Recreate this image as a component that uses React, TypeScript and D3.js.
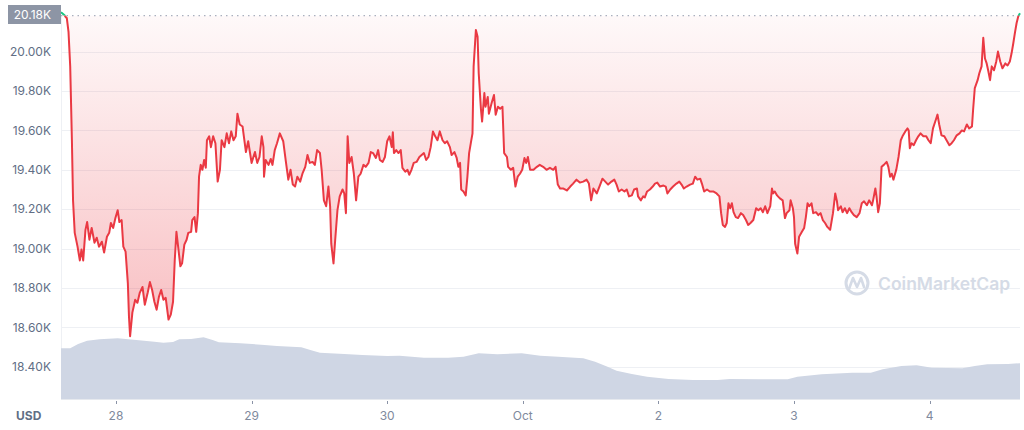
import React from 'react';
import * as d3 from 'd3';

// hours counted from 27 Sep 00:00
const hours = [
  14.27, 14.9, 15.1, 15.3, 15.6, 15.9, 16.2, 16.4, 16.7, 17.2, 17.6, 17.9, 18.2, 18.6, 18.9, 19.3, 19.7, 20.2, 20.6, 21.0,
  21.5, 21.9, 22.4, 22.8, 23.1, 23.5, 23.9, 24.3, 24.6, 25.0, 25.3, 25.7, 26.1, 26.3, 26.5, 26.9, 27.4, 27.8, 28.2, 28.7,
  29.1, 29.6, 30.0, 30.4, 30.8, 31.2, 31.6, 32.0, 32.4, 32.8, 33.3, 33.7, 34.1, 34.4, 34.7, 35.0, 35.4, 35.7, 36.1, 36.5,
  36.8, 37.3, 37.5, 37.9, 38.2, 38.5, 38.7, 39.0, 39.3, 39.6, 39.9, 40.1, 40.5, 40.8, 41.2, 41.6, 42.0, 42.4, 42.7, 43.2,
  43.6, 44.0, 44.4, 44.8, 45.2, 45.5, 45.9, 46.4, 47.0, 47.4, 48.0, 48.6, 49.0, 49.4, 49.8, 50.1, 50.2, 50.5, 51.0, 51.4,
  51.7, 52.1, 52.5, 53.0, 53.6, 54.1, 54.5, 54.9, 55.3, 55.7, 56.1, 56.6, 57.0, 57.5, 57.9, 58.3, 58.8, 59.2, 59.6, 60.1,
  60.4, 60.8, 61.2, 61.6, 61.9, 62.1, 62.5, 62.8, 63.2, 63.6, 64.1, 64.4, 64.7, 65.0, 65.3, 65.7, 66.1, 66.5, 66.9, 67.3,
  67.8, 68.2, 68.7, 69.1, 69.5, 70.0, 70.4, 70.7, 71.2, 71.6, 72.0, 72.4, 72.8, 73.0, 73.2, 73.6, 74.0, 74.4, 74.7, 75.2,
  75.6, 75.9, 76.3, 76.7, 77.2, 77.7, 78.1, 78.5, 78.9, 79.3, 79.7, 80.1, 80.5, 80.9, 81.3, 81.8, 82.2, 82.6, 83.1, 83.4,
  83.9, 84.3, 84.6, 84.9, 85.1, 85.5, 85.9, 86.2, 86.5, 86.8, 87.1, 87.3, 87.7, 88.0, 88.2, 88.6, 88.8, 89.2, 89.4, 89.8,
  90.0, 90.5, 90.9, 91.2, 91.6, 92.0, 92.4, 92.7, 93.2, 93.4, 93.9, 94.3, 94.7, 95.1, 95.5, 95.9, 96.3, 96.6, 96.9, 97.3,
  97.9, 98.5, 99.0, 99.6, 100.2, 100.8, 101.4, 101.8, 102.2, 102.6, 103.2, 103.8, 104.4, 104.9, 105.5, 106.1, 106.7, 107.3, 107.7, 108.1,
  108.5, 109.1, 109.7, 110.1, 110.6, 111.1, 111.7, 112.2, 112.6, 113.0, 113.5, 114.0, 114.4, 114.8, 115.3, 115.7, 116.2, 116.4, 116.9, 117.3,
  117.6, 118.0, 118.5, 119.0, 119.4, 119.8, 120.3, 120.9, 121.3, 121.6, 122.1, 122.6, 123.2, 123.7, 124.1, 124.5, 125.0, 125.6, 126.1, 126.5,
  126.9, 127.4, 127.7, 128.1, 128.6, 129.1, 129.7, 130.3, 130.8, 131.1, 131.4, 131.8, 132.1, 132.4, 132.7, 133.0, 133.3, 133.7, 134.1, 134.6,
  135.0, 135.5, 135.9, 136.3, 136.8, 137.3, 137.7, 138.1, 138.5, 138.9, 139.3, 139.8, 140.1, 140.3, 140.6, 141.0, 141.5, 142.0, 142.4, 142.7,
  143.2, 143.4, 143.8, 144.0, 144.2, 144.6, 144.9, 145.4, 145.8, 146.1, 146.4, 146.7, 147.1, 147.4, 147.9, 148.3, 148.7, 149.1, 149.5, 149.9,
  150.4, 150.9, 151.3, 151.6, 151.8, 152.3, 152.6, 153.0, 153.4, 153.8, 154.2, 154.6, 155.1, 155.6, 156.0, 156.4, 156.9, 157.3, 157.8, 158.0,
  158.4, 158.6, 158.9, 159.2, 159.5, 159.9, 160.4, 160.7, 161.0, 161.3, 161.6, 162.1, 162.5, 162.9, 163.2, 163.7, 164.1, 164.3, 164.5, 164.8,
  165.2, 165.6, 166.0, 166.4, 166.9, 167.4, 167.8, 168.2, 168.6, 169.0, 169.4, 169.7, 170.1, 170.6, 171.0, 171.5, 171.9, 172.3, 172.8, 173.3,
  173.7, 174.1, 174.6, 175.0, 175.5, 175.7, 176.0, 176.5, 176.8, 177.2, 177.5, 177.8, 178.1, 178.4, 178.7, 179.0, 179.4, 179.8, 180.1, 180.5,
  180.9, 181.4, 181.8, 182.2, 182.5, 182.8, 183.1, 183.4, 183.7, 184.0,
];

const prices = [
  20200, 20185, 20175, 20170, 20100, 19925, 19550, 19245, 19080, 19010, 18940, 18995, 18940, 19095, 19135, 19045, 19105, 19030, 19055, 19010,
  19035, 18980, 19060, 19080, 19130, 19105, 19155, 19195, 19135, 19145, 19010, 18985, 18825, 18655, 18555, 18675, 18740, 18725, 18775, 18805,
  18715, 18775, 18830, 18790, 18730, 18690, 18755, 18790, 18740, 18750, 18640, 18665, 18730, 18940, 19085, 19010, 18910, 18925, 19020, 19045,
  19080, 19085, 19145, 19160, 19085, 19180, 19365, 19425, 19400, 19450, 19410, 19550, 19570, 19515, 19570, 19535, 19340, 19400, 19550, 19515,
  19585, 19535, 19595, 19550, 19570, 19685, 19630, 19620, 19490, 19545, 19435, 19490, 19435, 19465, 19570, 19515, 19365, 19450, 19425, 19455,
  19425, 19500, 19535, 19585, 19545, 19435, 19350, 19400, 19325, 19315, 19365, 19340, 19380, 19415, 19475, 19435, 19440, 19425, 19500, 19485,
  19400, 19245, 19215, 19315, 19215, 19025, 18925, 19045, 19195, 19265, 19300, 19280, 19180, 19570, 19435, 19465, 19380, 19245, 19365, 19380,
  19425, 19415, 19435, 19490, 19485, 19460, 19500, 19450, 19440, 19465, 19545, 19570, 19515, 19590, 19485, 19500, 19485, 19500, 19410, 19390,
  19400, 19375, 19400, 19435, 19440, 19465, 19475, 19485, 19450, 19465, 19515, 19595, 19570, 19550, 19595, 19550, 19535, 19545, 19515, 19475,
  19490, 19460, 19415, 19435, 19300, 19290, 19270, 19365, 19485, 19535, 19585, 19925, 20110, 20075, 19890, 19705, 19645, 19790, 19720, 19770,
  19685, 19740, 19780, 19680, 19720, 19710, 19720, 19485, 19465, 19415, 19400, 19410, 19315, 19365, 19380, 19400, 19460, 19435, 19465, 19400,
  19400, 19415, 19425, 19415, 19400, 19410, 19400, 19415, 19325, 19305, 19305, 19295, 19315, 19330, 19350, 19335, 19340, 19350, 19330, 19245,
  19305, 19280, 19325, 19355, 19340, 19325, 19340, 19350, 19325, 19290, 19300, 19290, 19300, 19265, 19270, 19300, 19305, 19265, 19245, 19265,
  19260, 19290, 19300, 19315, 19330, 19335, 19315, 19320, 19315, 19280, 19300, 19315, 19330, 19340, 19325, 19305, 19315, 19325, 19330, 19365,
  19350, 19355, 19330, 19290, 19300, 19290, 19290, 19280, 19265, 19180, 19120, 19110, 19130, 19230, 19205, 19230, 19185, 19160, 19155, 19180,
  19170, 19145, 19120, 19130, 19145, 19205, 19195, 19205, 19185, 19215, 19180, 19215, 19305, 19280, 19290, 19270, 19255, 19245, 19155, 19180,
  19195, 19245, 19205, 19160, 19025, 18975, 19060, 19085, 19105, 19160, 19230, 19215, 19230, 19180, 19185, 19170, 19180, 19145, 19130, 19110,
  19095, 19180, 19280, 19240, 19195, 19215, 19185, 19205, 19180, 19205, 19185, 19170, 19160, 19180, 19230, 19240, 19220, 19245, 19220, 19245,
  19305, 19265, 19185, 19230, 19415, 19425, 19440, 19415, 19365, 19380, 19350, 19400, 19465, 19550, 19570, 19595, 19610, 19600, 19510, 19535,
  19525, 19550, 19570, 19585, 19570, 19570, 19550, 19535, 19610, 19645, 19680, 19630, 19575, 19570, 19550, 19525, 19535, 19550, 19575, 19585,
  19600, 19595, 19630, 19610, 19620, 19705, 19815, 19855, 19890, 19925, 20070, 19965, 19940, 19900, 19855, 19925, 19905, 19950, 20000, 19950,
  19915, 19940, 19930, 19950, 19990, 20040, 20095, 20145, 20180, 20195,
];

// 24h volume, billions USD
const volHours = [
  14.27, 15.9, 17.3, 18.9, 21.1, 24.3, 27.6, 30.8, 32.4, 34.1, 35.2, 37.3, 39.5, 41.1, 42.2, 46.0, 50.3, 52.5, 56.8, 58.4,
  60.1, 64.4, 67.6, 72.0, 74.2, 78.5, 82.8, 85.5, 88.2, 91.5, 95.8, 99.1, 102.3, 106.7, 108.8, 111.0, 112.6, 115.3, 118.0, 121.8,
  126.1, 130.5, 132.6, 138.1, 142.9, 144.6, 148.9, 154.3, 157.6, 159.7, 163.0, 165.7, 168.4, 173.8, 176.0, 178.2, 181.9, 184.0,
];
const volumes = [
  38.0, 38.0, 41.3, 43.7, 44.8, 45.5, 44.3, 43.0, 42.2, 42.8, 44.8, 45.0, 46.3, 44.3, 42.5, 41.8, 40.5, 39.8, 38.8, 36.8,
  34.7, 33.8, 33.0, 32.3, 32.5, 31.0, 31.0, 31.7, 34.3, 33.5, 34.3, 32.5, 31.7, 30.5, 28.0, 24.2, 21.2, 18.8, 16.7, 15.0,
  14.3, 14.3, 15.0, 14.8, 14.8, 16.7, 18.5, 19.7, 19.7, 22.3, 24.8, 25.3, 23.5, 23.0, 24.8, 26.0, 26.3, 26.8,
];

const openPrice = 20183;
const yTicks = [18400, 18600, 18800, 19000, 19200, 19400, 19600, 19800, 20000];
const xTickHours = [24, 48, 72, 96, 120, 144, 168];
const xTickLabels = ['28', '29', '30', 'Oct', '2', '3', '4'];

const red = '#ea3943';
const green = '#16c784';
const font = 'Inter, "Noto Sans", sans-serif';

export default function App() {
  const left = 61;
  const right = 1020;
  const bottom = 399;

  const x = d3.scaleLinear().domain([14.27, 184]).range([left, right]);
  const y = d3.scaleLinear().domain([18400, 20200]).range([366.8, 12.2]);
  const yv = d3.scaleLinear().domain([0, 50]).range([bottom, 332.3]);

  const pts: [number, number][] = hours.map((h, i) => [h, prices[i]]);
  const vpts: [number, number][] = volHours.map((h, i) => [h, volumes[i]]);
  const base = y(openPrice);

  const linePath = d3.line<[number, number]>()
    .x(d => x(d[0]))
    .y(d => y(d[1]))(pts) || '';
  const areaPath = d3.area<[number, number]>()
    .x(d => x(d[0]))
    .y0(base)
    .y1(d => y(d[1]))(pts) || '';
  const volPath = d3.area<[number, number]>()
    .x(d => x(d[0]))
    .y0(yv(0))
    .y1(d => yv(d[1]))(vpts) || '';

  const minY = y(d3.min(prices) as number);

  return (
    <svg width={1024} height={430} style={{ position: 'absolute', left: 0, top: 0, background: '#fff' }}>
      <defs>
        <linearGradient id="redFill" gradientUnits="userSpaceOnUse" x1={0} x2={0} y1={base} y2={minY}>
          <stop offset="0" stopColor={red} stopOpacity={0.03} />
          <stop offset="1" stopColor={red} stopOpacity={0.33} />
        </linearGradient>
        <clipPath id="below">
          <rect x={0} y={base} width={1024} height={430} />
        </clipPath>
        <clipPath id="above">
          <rect x={0} y={0} width={1024} height={base} />
        </clipPath>
      </defs>

      {/* grid */}
      {yTicks.map(t => (
        <line key={t} x1={left} x2={right} y1={Math.round(y(t)) + 0.5} y2={Math.round(y(t)) + 0.5}
          stroke="#eef0f4" strokeWidth={1} />
      ))}
      <line x1={left + 0.5} x2={left + 0.5} y1={base} y2={bottom} stroke="#eef0f4" />

      {/* volume */}
      <path d={volPath} fill="#cfd6e4" />

      {/* watermark */}
      <g opacity={1}>
        <circle cx={857} cy={283} r={11} fill="none" stroke="#d5dbe6" strokeWidth={3} />
        <path d="M849,289 L853,278 L857,287 L861,278 L864,287" fill="none" stroke="#d5dbe6" strokeWidth={2.6}
          strokeLinejoin="round" strokeLinecap="round" />
        <text x={878} y={289.5} fontFamily={font} fontSize={17.5} fontWeight={600} fill="#d5dbe6">CoinMarketCap</text>
      </g>

      {/* baseline */}
      <line x1={left} x2={right} y1={base} y2={base} stroke="#a9b1bf" strokeDasharray="1.5 4" strokeWidth={1.2} />

      {/* price area + line */}
      <path d={areaPath} fill="url(#redFill)" clipPath="url(#below)" />
      <path d={linePath} fill="none" stroke={red} strokeWidth={2} strokeLinejoin="round" clipPath="url(#below)" />
      <path d={linePath} fill="none" stroke={green} strokeWidth={2} strokeLinejoin="round" clipPath="url(#above)" />

      {/* y labels */}
      {yTicks.map(t => (
        <text key={t} x={51} y={y(t)} dy="0.35em" textAnchor="end" fontFamily={font} fontSize={12}
          fill="#616e85">{(t / 1000).toFixed(2)}K</text>
      ))}
      <rect x={8} y={5} width={53} height={19} fill="#8d95a5" />
      <text x={51} y={base - 1} dy="0.35em" textAnchor="end" fontFamily={font} fontSize={12} fill="#fff">
        {(openPrice / 1000).toFixed(2)}K
      </text>

      {/* x axis */}
      <line x1={left} x2={right} y1={bottom + 0.5} y2={bottom + 0.5} stroke="#e6e9ee" />
      {xTickHours.map((h, i) => (
        <g key={h}>
          <line x1={Math.round(x(h)) + 0.5} x2={Math.round(x(h)) + 0.5} y1={401} y2={404} stroke="#8a93a6" />
          <text x={x(h)} y={420} textAnchor="middle" fontFamily={font} fontSize={12} fill="#808a9d">
            {xTickLabels[i]}
          </text>
        </g>
      ))}
      <text x={16} y={420} fontFamily={font} fontSize={12} fontWeight={700} fill="#616e85">USD</text>
    </svg>
  );
}
